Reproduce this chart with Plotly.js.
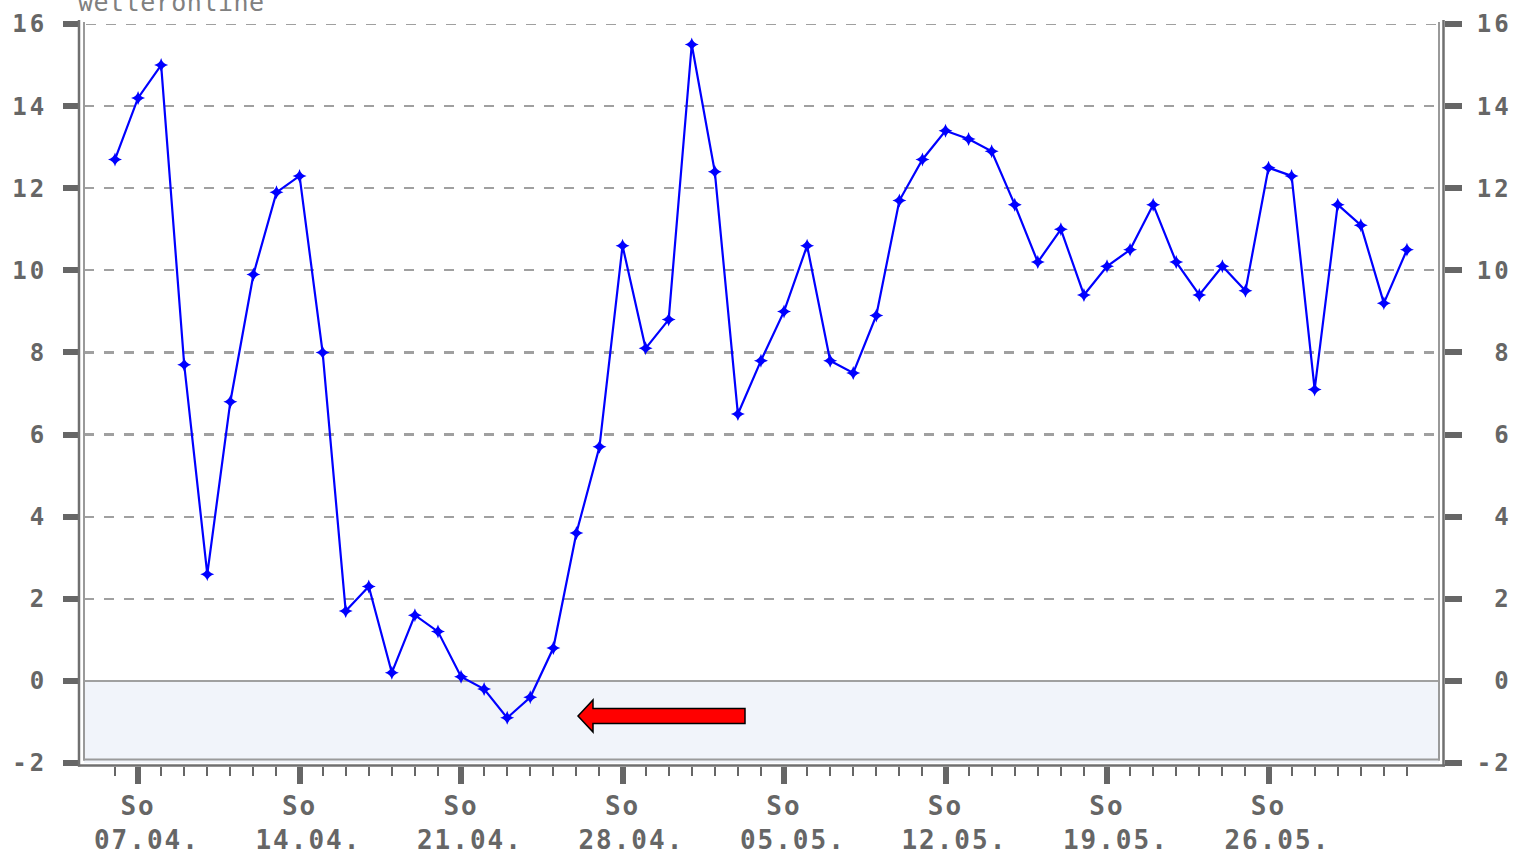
<!DOCTYPE html>
<html>
<head>
<meta charset="utf-8">
<script src="https://cdn.plot.ly/plotly-3.0.1.min.js"></script>
<style>
  html, body { margin: 0; padding: 0; background: #ffffff; }
  #chart { width: 1514px; height: 850px; }
  .xtick text { letter-spacing: 2px; }
  .ytick text, .y2tick text { letter-spacing: 3px; }
  .annotation-text { letter-spacing: 0.5px; }
</style>
</head>
<body>
<div id="chart"></div>
<script>
// ---- data ----
const dates = [
  "2024-04-06","2024-04-07","2024-04-08","2024-04-09","2024-04-10","2024-04-11","2024-04-12",
  "2024-04-13","2024-04-14","2024-04-15","2024-04-16","2024-04-17","2024-04-18","2024-04-19",
  "2024-04-20","2024-04-21","2024-04-22","2024-04-23","2024-04-24","2024-04-25","2024-04-26",
  "2024-04-27","2024-04-28","2024-04-29","2024-04-30","2024-05-01","2024-05-02","2024-05-03",
  "2024-05-04","2024-05-05","2024-05-06","2024-05-07","2024-05-08","2024-05-09","2024-05-10",
  "2024-05-11","2024-05-12","2024-05-13","2024-05-14","2024-05-15","2024-05-16","2024-05-17",
  "2024-05-18","2024-05-19","2024-05-20","2024-05-21","2024-05-22","2024-05-23","2024-05-24",
  "2024-05-25","2024-05-26","2024-05-27","2024-05-28","2024-05-29","2024-05-30","2024-05-31",
  "2024-06-01"
];
const temps = [
  12.7, 14.2, 15.0, 7.7, 2.6, 6.8, 9.9, 11.9, 12.3, 8.0,
  1.7, 2.3, 0.2, 1.6, 1.2, 0.1, -0.2, -0.9, -0.4, 0.8,
  3.6, 5.7, 10.6, 8.1, 8.8, 15.5, 12.4, 6.5, 7.8, 9.0,
  10.6, 7.8, 7.5, 8.9, 11.7, 12.7, 13.4, 13.2, 12.9, 11.6,
  10.2, 11.0, 9.4, 10.1, 10.5, 11.6, 10.2, 9.4, 10.1, 9.5,
  12.5, 12.3, 7.1, 11.6, 11.1, 9.2, 10.5
];
const sundayDates = ["2024-04-07","2024-04-14","2024-04-21","2024-04-28","2024-05-05","2024-05-12","2024-05-19","2024-05-26"];
const sundayLabels = ["So<br>\u00a007.04.","So<br>\u00a014.04.","So<br>\u00a021.04.","So<br>\u00a028.04.",
                      "So<br>\u00a005.05.","So<br>\u00a012.05.","So<br>\u00a019.05.","So<br>\u00a026.05."];
const yTickVals = [-2, 0, 2, 4, 6, 8, 10, 12, 14, 16];
const yTickLeft = ["-2", "0", "2", "4", "6", "8", "10", "12", "14", "16"];
const yTickRight = ["-2", "\u00a00", "\u00a02", "\u00a04", "\u00a06", "\u00a08", "10", "12", "14", "16"];
const gridVals = [2, 4, 6, 8, 10, 12, 14];
const topGridVal = 16;
const watermark = "wetteronline";

// ---- geometry helpers (pixel -> paper) ----
const W = 1514, H = 850;
const mL = 79, mR = 70, mT = 18, mB = 84;
const PW = W - mL - mR, PH = H - mT - mB;
const px = x => (x - mL) / PW;
const py = y => 1 - (y - mT) / PH;
const yTopPx = 24, yBotPx = 763;

const tickFont = { family: "DejaVu Sans Mono, monospace", size: 26, color: "#666666", weight: "bold" };
const yFont = { family: "DejaVu Sans Mono, monospace", size: 24, color: "#666666", weight: "bold" };
const gridStyle = { color: "#a0a0a0", width: 2.2, dash: "10px,10px" };

function vline(x, y0, y1, color, w) {
  return { type: "line", xref: "paper", yref: "paper", x0: px(x), x1: px(x), y0: py(y0), y1: py(y1),
           line: { color: color, width: w }, layer: "above" };
}
function hline(y, x0, x1, color, w) {
  return { type: "line", xref: "paper", yref: "paper", x0: px(x0), x1: px(x1), y0: py(y), y1: py(y),
           line: { color: color, width: w }, layer: "above" };
}

// arrow outline in pixels
const arrowPts = [[578, 716], [593, 700], [593, 708.5], [745, 708.5], [745, 723.5], [593, 723.5], [593, 732]];
const arrowPath = "M " + arrowPts.map(p => px(p[0]) + "," + py(p[1])).join(" L ") + " Z";

const shapes = [
  { type: "rect", xref: "paper", yref: "y", x0: px(84), x1: px(1439), y0: -2, y1: 0,
    fillcolor: "#f1f4fa", line: { width: 0 }, layer: "below" },
  { type: "line", xref: "paper", yref: "y", x0: px(86), x1: px(1439), y0: topGridVal, y1: topGridVal,
    line: gridStyle, layer: "below" },
  { type: "path", xref: "paper", yref: "paper", path: arrowPath,
    fillcolor: "#ff0000", line: { color: "#000000", width: 1.5 }, layer: "above" },
  vline(79, 20, 766.5, "#707070", 2.5),
  vline(84, 22, 760.5, "#9a9a9a", 2),
  vline(1443.5, 20, 766.5, "#707070", 2.5),
  vline(1439, 22, 760.5, "#9a9a9a", 2),
  hline(765.5, 78, 1445, "#707070", 2.5),
  hline(759.5, 83, 1440, "#9a9a9a", 2)
];

const trace = {
  type: "scatter", mode: "lines+markers",
  x: dates, y: temps, xaxis: "x", yaxis: "y",
  line: { color: "#0000ff", width: 2.2 },
  marker: { symbol: "star-diamond", size: 10, color: "#0000ff" },
  hoverinfo: "skip", showlegend: false, cliponaxis: false
};
// invisible helper traces so that the right-hand axis and the grid axis get drawn
const helperRight = { type: "scatter", mode: "markers", x: [dates[0]], y: [temps[0]], xaxis: "x", yaxis: "y2",
  marker: { opacity: 0, size: 1 }, hoverinfo: "skip", showlegend: false };
const helperGrid = { type: "scatter", mode: "markers", x: [dates[0]], y: [temps[0]], xaxis: "x", yaxis: "y3",
  marker: { opacity: 0, size: 1 }, hoverinfo: "skip", showlegend: false };

const yDom = [py(yBotPx), py(yTopPx)];

const layout = {
  width: W, height: H,
  margin: { l: mL, r: mR, t: mT, b: mB, pad: 0 },
  paper_bgcolor: "#ffffff", plot_bgcolor: "rgba(0,0,0,0)",
  showlegend: false, hovermode: false,
  xaxis: {
    type: "date", domain: [px(84), px(1439)],
    range: ["2024-04-04 15:45", "2024-06-02 09:22"],
    anchor: "free", position: 0,
    tickmode: "array", tickvals: sundayDates, ticktext: sundayLabels,
    ticks: "outside", ticklen: 17, tickwidth: 6, tickcolor: "#666666",
    tickfont: tickFont, ticklabelstandoff: 0,
    showgrid: false, zeroline: false, showline: false, fixedrange: true,
    minor: { tickmode: "array", tickvals: dates, ticks: "outside", ticklen: 9, tickwidth: 2,
             tickcolor: "#666666", showgrid: false }
  },
  yaxis: {
    domain: yDom, range: [-2, 16], anchor: "free", position: 0,
    tickmode: "array", tickvals: yTickVals, ticktext: yTickLeft,
    ticks: "outside", ticklen: 16, tickwidth: 6, tickcolor: "#666666",
    tickfont: yFont, ticklabelstandoff: 11,
    showgrid: false, zeroline: true, zerolinecolor: "#a0a0a0", zerolinewidth: 2,
    showline: false, fixedrange: true
  },
  yaxis2: {
    domain: yDom, range: [-2, 16], overlaying: "y", side: "right",
    anchor: "free", position: 1,
    tickmode: "array", tickvals: yTickVals, ticktext: yTickRight,
    ticks: "outside", ticklen: 17, tickwidth: 6, tickcolor: "#666666",
    tickfont: yFont, ticklabelstandoff: 10,
    showgrid: false, zeroline: false, showline: false, fixedrange: true
  },
  yaxis3: {
    domain: yDom, range: [-2, 16], overlaying: "y", side: "left",
    anchor: "free", position: 0,
    tickmode: "array", tickvals: gridVals, showticklabels: false, ticks: "",
    showgrid: true, gridcolor: gridStyle.color, gridwidth: gridStyle.width, griddash: gridStyle.dash,
    zeroline: false, showline: false, fixedrange: true, layer: "below traces"
  },
  shapes: shapes,
  annotations: [
    { text: watermark, xref: "paper", yref: "paper", x: px(76), y: py(19),
      xanchor: "left", yanchor: "bottom", showarrow: false,
      font: { family: "DejaVu Sans Mono, monospace", size: 25, color: "#808080" } }
  ]
};

Plotly.newPlot("chart", [helperGrid, helperRight, trace], layout, { staticPlot: true, displayModeBar: false });
</script>
</body>
</html>
